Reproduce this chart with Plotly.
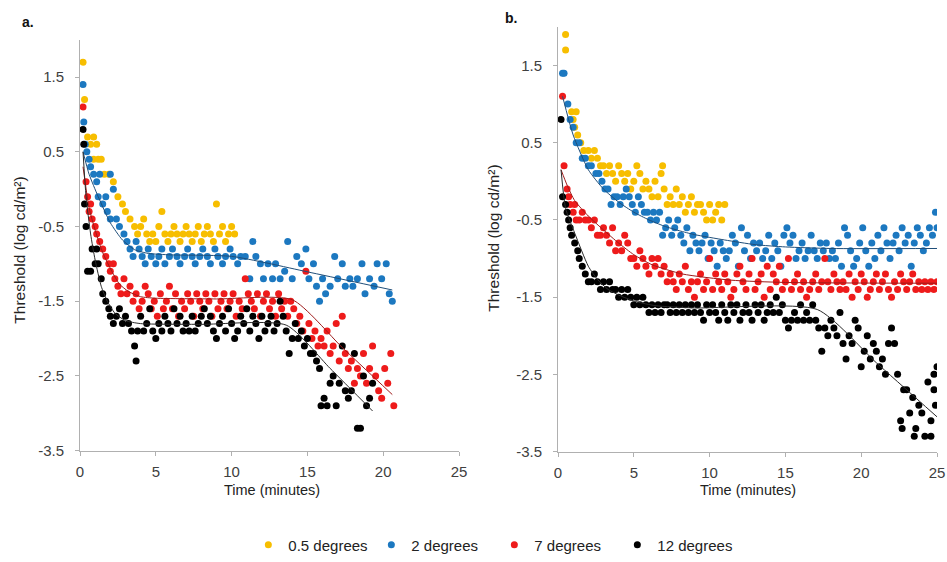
import plotly.graph_objects as go

# ---------------- data (time in minutes, threshold in log cd/m2) ----------------
series_names = ["0.5 degrees", "2 degrees", "7 degrees", "12 degrees"]
series_colors = ["#F7BE00", "#1C78C0", "#EE1B1B", "#000000"]
fit_colors = ["#B08A00", "#1F4E79", "#9E1A1A", "#2A2A2A"]

# Panel a
a_05 = [(0.2,1.7),(0.3,1.2),(0.5,0.7),(0.7,0.6),(0.9,0.7),(1.1,0.6),(0.9,0.4),(1.2,0.4),(1.4,0.4),
        (1.6,0.2),(1.9,0.2),(2.2,0.1),(2.5,-0.1),(2.8,-0.2),(3.0,-0.3),(3.3,-0.4),(3.6,-0.5),(3.8,-0.6),
        (4.0,-0.5),(4.2,-0.4),(4.4,-0.6),(4.6,-0.7),(4.8,-0.6),(5.0,-0.7),(5.2,-0.5),(5.4,-0.3),(5.6,-0.6),
        (5.8,-0.7),(6.0,-0.6),(6.2,-0.5),(6.4,-0.6),(6.6,-0.7),(6.8,-0.6),(7.0,-0.5),(7.2,-0.6),(7.4,-0.7),
        (7.6,-0.6),(7.8,-0.5),(8.0,-0.7),(8.2,-0.6),(8.4,-0.5),(8.6,-0.6),(8.8,-0.7),(9.0,-0.2),(9.2,-0.6),
        (9.4,-0.5),(9.6,-0.7),(9.8,-0.6),(10.0,-0.5),(10.2,-0.6)]
a_2 = [(0.2,1.4),(0.25,0.9),(0.35,0.6),(0.45,0.5),(0.6,0.4),(0.7,0.3),(0.9,0.2),(1.1,0.1),(1.3,0.2),
       (1.2,-0.1),(1.5,-0.2),(1.7,-0.1),(1.8,-0.3),(2.0,-0.4),(2.0,0.2),(2.2,0.0),(2.4,-0.4),(2.6,-0.5),
       (2.9,-0.6),(3.1,-0.7),(3.3,-0.8),(3.5,-0.9),(3.7,-0.7),(3.9,-0.8),(4.1,-0.9),(4.3,-1.0),(4.5,-0.8),
       (4.7,-0.9),(5.0,-1.0),(5.2,-0.9),(5.4,-0.8),(5.6,-1.0),(5.9,-0.9),(6.1,-0.8),(6.4,-0.9),(6.6,-1.0),
       (6.9,-0.9),(7.1,-0.8),(7.4,-0.9),(7.6,-1.0),(7.9,-0.9),(8.1,-0.8),(8.4,-0.9),(8.6,-1.0),(8.9,-0.8),
       (9.1,-0.9),(9.4,-1.0),(9.6,-0.9),(9.9,-0.8),(10.1,-0.9),(10.4,-1.0),(10.6,-0.9),(10.9,-0.9),
       (11.2,-1.2),(11.4,-0.7),(11.6,-0.9),(11.9,-1.0),(12.1,-1.2),(12.4,-1.0),(12.7,-1.2),(12.9,-1.0),
       (13.2,-1.2),(13.5,-1.1),(13.7,-0.7),(14.0,-1.2),(14.3,-0.9),(14.6,-1.0),(14.9,-0.8),(15.1,-1.2),
       (15.4,-1.0),(15.6,-1.3),(15.8,-1.5),(16.0,-1.2),(16.2,-1.4),(16.5,-1.3),(16.8,-0.9),(17.0,-1.2),
       (17.3,-1.0),(17.5,-1.3),(17.8,-1.2),(18.0,-1.3),(18.3,-1.2),(18.6,-1.0),(18.8,-1.4),(19.1,-1.2),
       (19.4,-1.3),(19.6,-1.0),(19.9,-1.2),(20.2,-1.0),(20.4,-1.4),(20.6,-1.5)]
a_7 = [(0.2,1.1),(0.4,0.1),(0.5,-0.1),(0.6,-0.3),(0.7,-0.2),(0.8,-0.4),(1.0,-0.5),(1.1,-0.6),(1.3,-0.7),
       (1.5,-0.8),(1.7,-0.9),(1.9,-1.0),(2.2,-1.0),(2.0,-1.1),(2.3,-1.2),(2.5,-1.3),(2.7,-1.4),(2.9,-1.2),
       (3.1,-1.4),(3.3,-1.3),(3.5,-1.5),(3.7,-1.4),(3.9,-1.6),(4.1,-1.5),(4.3,-1.3),(4.5,-1.4),(4.7,-1.6),
       (4.9,-1.5),(5.1,-1.7),(5.3,-1.4),(5.5,-1.6),(5.7,-1.5),(5.9,-1.3),(6.1,-1.6),(6.3,-1.4),(6.5,-1.7),
       (6.7,-1.5),(6.9,-1.6),(7.1,-1.4),(7.3,-1.5),(7.5,-1.7),(7.7,-1.4),(7.9,-1.5),(8.1,-1.6),(8.3,-1.4),
       (8.5,-1.5),(8.7,-1.7),(8.9,-1.4),(9.1,-1.6),(9.3,-1.5),(9.5,-1.4),(9.7,-1.6),(9.9,-1.5),(10.1,-1.4),
       (10.3,-1.7),(10.5,-1.5),(10.7,-1.6),(10.9,-1.2),(11.1,-1.4),(11.3,-1.5),(11.5,-1.6),(11.7,-1.4),
       (11.9,-1.7),(12.1,-1.5),(12.3,-1.4),(12.5,-1.6),(12.7,-1.5),(12.9,-1.7),(13.1,-1.4),(13.3,-1.6),
       (13.5,-1.5),(13.7,-1.7),(13.9,-1.5),(14.1,-1.6),(14.3,-1.8),(14.5,-1.7),(14.7,-1.9),(14.9,-1.1),
       (15.1,-1.8),(15.3,-2.0),(15.5,-1.9),(15.7,-2.1),(15.9,-2.0),(16.1,-2.1),(16.3,-1.9),(16.5,-2.2),
       (16.7,-2.1),(16.9,-1.8),(17.1,-2.3),(17.3,-1.7),(17.5,-2.2),(17.7,-2.4),(17.9,-2.3),(18.1,-2.6),
       (18.3,-2.4),(18.5,-2.5),(18.7,-2.2),(18.9,-2.6),(19.1,-2.4),(19.3,-2.1),(19.5,-2.5),(19.7,-2.7),
       (19.9,-2.8),(20.1,-2.4),(20.3,-2.6),(20.5,-2.2),(20.7,-2.9)]
a_12 = [(0.2,0.8),(0.25,0.6),(0.3,-0.2),(0.4,-0.5),(0.5,-1.1),(0.7,-1.1),(0.8,-0.8),(1.0,-1.0),(1.1,-0.8),
        (1.2,-1.0),(1.4,-1.2),(1.5,-1.4),(1.7,-1.5),(1.9,-1.6),(2.0,-1.7),(2.2,-1.8),(2.4,-1.7),(2.6,-1.6),
        (2.8,-1.8),(3.0,-1.7),(3.2,-1.8),(3.4,-1.9),(3.6,-2.1),(3.7,-2.3),(3.8,-1.9),(4.0,-1.7),(4.2,-1.9),
        (4.4,-1.8),(4.6,-1.6),(4.8,-1.9),(5.0,-2.0),(5.2,-1.8),(5.4,-1.9),(5.6,-1.7),(5.8,-1.8),(6.0,-1.9),
        (6.2,-1.6),(6.4,-1.8),(6.6,-1.7),(6.8,-1.9),(7.0,-1.8),(7.2,-1.9),(7.4,-1.7),(7.6,-1.9),(7.8,-1.8),
        (8.0,-1.7),(8.2,-1.6),(8.4,-1.8),(8.6,-1.7),(8.8,-1.9),(9.0,-2.0),(9.2,-1.8),(9.4,-1.7),(9.6,-1.9),
        (9.8,-1.6),(10.0,-1.8),(10.2,-2.0),(10.4,-1.9),(10.6,-1.7),(10.8,-1.8),(11.0,-1.6),(11.2,-1.9),
        (11.4,-1.7),(11.6,-1.8),(11.8,-2.0),(12.0,-1.7),(12.2,-1.9),(12.4,-1.8),(12.6,-1.7),(12.8,-1.9),
        (13.0,-1.8),(13.2,-1.5),(13.4,-1.7),(13.6,-1.9),(13.8,-2.2),(14.0,-2.0),(14.2,-1.8),(14.4,-2.0),
        (14.6,-1.9),(14.8,-2.1),(15.0,-2.0),(15.2,-2.2),(15.4,-2.2),(15.6,-2.3),(15.8,-2.4),(15.9,-2.9),
        (16.1,-2.8),(16.3,-2.9),(16.5,-2.6),(16.7,-2.5),(16.9,-2.9),(17.1,-2.6),(17.3,-2.1),(17.5,-2.7),
        (17.7,-2.8),(17.9,-2.7),(18.1,-2.2),(18.3,-3.2),(18.5,-3.2),(18.7,-2.5),(18.9,-2.9),(19.1,-2.8),
        (19.3,-2.6)]

# Panel b
b_05 = [(0.5,1.9),(0.5,1.7),(0.9,0.9),(1.2,0.9),(1.0,0.8),(1.1,0.7),(1.3,0.6),(1.5,0.5),(1.7,0.4),
        (2.0,0.4),(2.2,0.3),(2.4,0.4),(2.6,0.3),(2.8,0.2),(3.0,0.2),(3.2,0.1),(3.4,0.2),(3.6,0.1),(3.8,0.0),
        (4.0,0.2),(4.2,0.1),(4.4,0.0),(4.6,0.1),(4.8,-0.1),(5.0,0.0),(5.2,0.2),(5.4,0.1),(5.6,-0.1),
        (5.8,0.0),(6.0,-0.1),(6.2,-0.2),(6.4,0.0),(6.6,-0.2),(6.8,0.1),(6.9,0.2),(7.0,-0.1),(7.2,-0.3),
        (7.4,-0.2),(7.6,-0.3),(7.8,-0.1),(8.0,-0.3),(8.2,-0.2),(8.4,-0.4),(8.6,-0.3),(8.8,-0.2),(9.0,-0.4),
        (9.2,-0.3),(9.4,-0.3),(9.6,-0.4),(9.8,-0.5),(10.0,-0.3),(10.2,-0.5),(10.4,-0.4),(10.6,-0.3),
        (10.8,-0.5),(11.0,-0.3)]
b_2 = [(0.3,1.4),(0.4,1.4),(0.65,1.0),(0.8,0.8),(1.0,0.7),(1.2,0.5),(1.4,0.5),(1.6,0.3),(1.8,0.3),
       (2.0,0.2),(2.2,0.2),(2.5,0.1),(2.7,0.1),(2.9,0.0),(3.1,-0.1),(3.3,-0.1),(3.5,-0.3),(3.7,-0.2),
       (3.9,-0.2),(4.1,-0.3),(4.3,-0.2),(4.5,-0.1),(4.7,-0.2),(4.9,-0.3),(5.1,-0.4),(5.3,-0.2),(5.5,-0.3),
       (5.7,-0.4),(5.9,-0.4),(6.1,-0.5),(6.3,-0.4),(6.5,-0.5),(6.7,-0.4),(6.9,-0.7),(7.1,-0.6),(7.3,-0.5),
       (7.5,-0.7),(7.7,-0.6),(7.9,-0.5),(8.1,-0.7),(8.3,-0.8),(8.5,-0.6),(8.7,-0.9),(8.9,-0.7),(9.1,-0.8),
       (9.3,-0.9),(9.5,-0.8),(9.7,-0.7),(9.9,-1.0),(10.1,-0.8),(10.3,-0.9),(10.5,-1.1),(10.7,-0.8),
       (10.9,-0.9),(11.1,-1.0),(11.3,-0.9),(11.5,-0.7),(11.7,-0.8),(11.9,-1.1),(12.1,-0.6),(12.3,-0.9),
       (12.5,-0.7),(12.7,-1.0),(12.9,-0.8),(13.1,-0.9),(13.3,-0.8),(13.5,-1.0),(13.7,-0.9),(13.9,-0.7),
       (14.1,-1.0),(14.3,-0.8),(14.5,-0.9),(14.7,-1.1),(14.9,-0.7),(15.1,-0.6),(15.3,-0.8),(15.5,-0.7),
       (15.7,-1.0),(15.9,-0.9),(16.1,-0.8),(16.3,-1.0),(16.5,-0.9),(16.7,-0.7),(16.9,-0.9),(17.1,-1.0),
       (17.3,-0.8),(17.5,-0.9),(17.7,-0.8),(17.9,-1.0),(18.1,-0.9),(18.3,-1.0),(18.5,-0.8),(18.7,-1.1),
       (18.9,-0.6),(19.1,-0.7),(19.3,-0.9),(19.5,-1.1),(19.7,-1.0),(19.9,-0.8),(20.1,-0.6),(20.3,-0.9),
       (20.5,-1.1),(20.7,-0.8),(20.9,-1.0),(21.1,-0.7),(21.3,-0.9),(21.5,-0.6),(21.7,-0.8),(21.9,-1.0),
       (22.1,-0.8),(22.3,-0.7),(22.5,-0.9),(22.7,-0.6),(22.9,-0.8),(23.1,-0.7),(23.3,-1.1),(23.5,-0.8),
       (23.7,-0.6),(23.9,-0.7),(24.1,-0.9),(24.3,-0.8),(24.5,-0.6),(24.7,-0.7),(24.9,-0.4),(25.0,-0.6)]
b_7 = [(0.3,1.1),(0.4,0.2),(0.6,-0.1),(0.7,-0.2),(0.8,-0.3),(1.0,-0.4),(1.1,-0.3),(1.2,-0.5),(1.4,-0.5),
       (1.6,-0.4),(1.8,-0.5),(2.0,-0.5),(2.2,-0.6),(2.4,-0.5),(2.6,-0.7),(2.8,-0.7),(3.0,-0.6),(3.2,-0.7),
       (3.4,-0.8),(3.6,-0.6),(3.8,-0.9),(4.0,-0.8),(4.2,-0.9),(4.4,-0.7),(4.6,-0.8),(4.8,-1.0),(5.0,-1.0),
       (5.2,-1.1),(5.4,-0.9),(5.6,-1.0),(5.8,-1.1),(6.0,-1.2),(6.2,-1.0),(6.4,-1.1),(6.6,-1.0),(6.8,-1.2),
       (7.0,-1.1),(7.2,-1.3),(7.4,-1.2),(7.6,-1.3),(7.8,-1.4),(8.0,-1.2),(8.2,-1.3),(8.4,-1.1),(8.6,-1.4),
       (8.8,-1.3),(9.0,-1.5),(9.2,-1.3),(9.4,-1.2),(9.6,-1.4),(9.8,-1.3),(10.0,-1.0),(10.2,-1.4),
       (10.4,-1.2),(10.6,-1.3),(10.8,-1.4),(11.0,-1.2),(11.2,-1.3),(11.4,-1.5),(11.6,-1.4),(11.8,-1.2),
       (12.0,-1.1),(12.2,-1.3),(12.4,-1.4),(12.6,-1.2),(12.8,-1.0),(13.0,-1.4),(13.2,-1.3),(13.4,-1.2),
       (13.6,-1.5),(13.8,-1.1),(14.0,-1.4),(14.2,-1.2),(14.4,-1.3),(14.6,-1.1),(14.8,-1.4),(15.0,-1.3),
       (15.2,-1.0),(15.4,-1.4),(15.6,-1.3),(15.8,-1.2),(16.0,-1.4),(16.2,-1.3),(16.4,-1.5),(16.6,-1.4),
       (16.8,-1.3),(17.0,-1.2),(17.2,-1.4),(17.4,-1.3),(17.6,-1.0),(17.8,-1.3),(18.0,-1.4),(18.2,-1.2),
       (18.4,-1.3),(18.6,-1.4),(18.8,-1.3),(19.0,-1.4),(19.2,-1.2),(19.4,-1.5),(19.6,-1.3),(19.8,-1.4),
       (20.0,-1.2),(20.2,-1.3),(20.4,-1.5),(20.6,-1.4),(20.8,-1.3),(21.0,-1.2),(21.2,-1.4),(21.4,-1.3),
       (21.6,-1.2),(21.8,-1.4),(22.0,-1.5),(22.2,-1.3),(22.4,-1.4),(22.6,-1.2),(22.8,-1.3),(23.0,-1.4),
       (23.2,-1.3),(23.4,-1.2),(23.6,-1.4),(23.8,-1.3),(24.0,-1.4),(24.2,-1.3),(24.4,-1.4),(24.6,-1.3),
       (24.8,-1.4),(25.0,-1.3)]
b_12 = [(0.2,0.8),(0.3,-0.2),(0.5,-0.3),(0.6,-0.4),(0.7,-0.5),(0.8,-0.6),(0.9,-0.7),(1.1,-0.8),(1.3,-0.9),
        (1.4,-1.0),(1.6,-1.1),(1.8,-1.2),(2.0,-1.3),(2.2,-1.3),(2.4,-1.2),(2.6,-1.3),(2.8,-1.4),(3.0,-1.3),
        (3.2,-1.4),(3.4,-1.3),(3.6,-1.4),(3.8,-1.4),(4.0,-1.5),(4.2,-1.4),(4.4,-1.5),(4.6,-1.4),(4.8,-1.5),
        (5.0,-1.6),(5.2,-1.5),(5.4,-1.6),(5.6,-1.5),(5.8,-1.6),(6.0,-1.7),(6.2,-1.6),(6.4,-1.7),(6.6,-1.6),
        (6.8,-1.7),(7.0,-1.6),(7.2,-1.6),(7.4,-1.7),(7.6,-1.6),(7.8,-1.7),(8.0,-1.6),(8.2,-1.7),(8.4,-1.6),
        (8.6,-1.7),(8.8,-1.6),(9.0,-1.7),(9.2,-1.6),(9.4,-1.7),(9.6,-1.8),(9.8,-1.6),(10.0,-1.7),(10.2,-1.6),
        (10.4,-1.7),(10.6,-1.8),(10.8,-1.6),(11.0,-1.7),(11.2,-1.8),(11.4,-1.6),(11.6,-1.7),(11.8,-1.6),
        (12.0,-1.8),(12.2,-1.7),(12.4,-1.6),(12.6,-1.7),(12.8,-1.8),(13.0,-1.6),(13.2,-1.7),(13.4,-1.6),
        (13.6,-1.8),(13.8,-1.7),(14.0,-1.6),(14.2,-1.7),(14.4,-1.5),(14.6,-1.7),(14.8,-1.6),(15.0,-1.8),
        (15.2,-1.9),(15.4,-1.8),(15.6,-1.7),(15.8,-1.8),(16.0,-1.6),(16.2,-1.8),(16.4,-1.7),(16.6,-1.8),
        (16.8,-1.6),(17.0,-1.8),(17.2,-1.9),(17.4,-2.2),(17.6,-1.9),(17.8,-2.0),(18.0,-1.8),(18.2,-1.9),
        (18.4,-2.0),(18.6,-1.7),(18.8,-2.1),(19.0,-2.3),(19.2,-2.0),(19.4,-2.1),(19.6,-1.8),(19.8,-1.9),
        (20.0,-2.4),(20.2,-2.2),(20.4,-2.0),(20.6,-2.3),(20.8,-2.1),(21.0,-2.2),(21.2,-2.4),(21.4,-2.3),
        (21.6,-2.5),(21.8,-2.1),(22.0,-1.9),(22.2,-2.1),(22.4,-2.5),(22.6,-3.1),(22.7,-3.2),(22.8,-2.7),
        (23.0,-2.7),(23.2,-3.0),(23.4,-2.8),(23.5,-3.3),(23.6,-3.2),(23.8,-2.9),(24.0,-3.0),(24.2,-3.3),
        (24.4,-2.6),(24.6,-3.1),(24.6,-3.3),(24.8,-2.5),(24.8,-2.7),(24.9,-2.9),(25.0,-2.4)]

# fitted curves (knots); None = no fit drawn
a_fits = [None,
          [(0.2,0.5),(0.6,0.2),(1.2,-0.1),(2.0,-0.45),(2.8,-0.68),(3.6,-0.81),(4.5,-0.86),(6.0,-0.88),(10.0,-0.9),(15.3,-1.12),(20.6,-1.35)],
          [(0.2,0.3),(0.6,-0.25),(1.0,-0.55),(1.5,-0.85),(2.1,-1.1),(2.6,-1.27),(3.2,-1.37),(4.0,-1.44),(5.0,-1.46),(9.0,-1.47),(14.0,-1.48),(17.3,-2.12),(20.6,-2.75)],
          [(0.2,0.5),(0.4,-0.1),(0.7,-0.6),(1.0,-0.95),(1.4,-1.3),(1.8,-1.5),(2.3,-1.66),(3.0,-1.76),(4.0,-1.8),(8.0,-1.81),(13.6,-1.82),(16.5,-2.4),(19.3,-2.97)]]
b_fits = [None,
          [(0.3,1.1),(1.0,0.6),(2.0,0.15),(3.0,-0.1),(4.0,-0.27),(5.0,-0.4),(6.0,-0.5),(7.0,-0.58),(8.0,-0.64),(9.0,-0.69),(11.0,-0.76),(13.0,-0.82),(15.0,-0.85),(18.0,-0.87),(25.0,-0.87)],
          [(0.2,0.15),(0.6,-0.05),(1.1,-0.25),(2.0,-0.45),(3.0,-0.63),(4.0,-0.8),(5.0,-0.95),(6.2,-1.08),(8.2,-1.2),(11.4,-1.28),(15.0,-1.31),(25.0,-1.32)],
          [(0.2,0.15),(0.5,-0.35),(1.1,-0.67),(2.0,-1.1),(2.6,-1.27),(3.3,-1.4),(4.2,-1.49),(5.2,-1.56),(6.4,-1.61),(9.0,-1.64),(17.1,-1.66),(21.0,-2.35),(25.0,-3.05)]]

x_ticks = [0, 5, 10, 15, 20, 25]
y_ticks = [-3.5, -2.5, -1.5, -0.5, 0.5, 1.5]
y_tick_text = ["-3.5", "-2.5", "-1.5", "-0.5", "0.5", "1.5"]

# ---------------- figure ----------------
W, H = 947, 562
fig = go.Figure()

panels = [
    dict(data=[a_05, a_2, a_7, a_12], fits=a_fits, xa="x", ya="y"),
    dict(data=[b_05, b_2, b_7, b_12], fits=b_fits, xa="x2", ya="y2"),
]

for pi, p in enumerate(panels):
    for si, pts in enumerate(p["data"]):
        fig.add_trace(go.Scatter(
            x=[t for t, v in pts], y=[v for t, v in pts], mode="markers",
            marker=dict(color=series_colors[si], size=7, line=dict(width=0)),
            name=series_names[si], legendgroup=series_names[si],
            showlegend=(pi == 0), xaxis=p["xa"], yaxis=p["ya"]))
    for si, knots in enumerate(p["fits"]):
        if knots is None:
            continue
        fig.add_trace(go.Scatter(
            x=[t for t, v in knots], y=[v for t, v in knots], mode="lines",
            line=dict(color=fit_colors[si], width=1, shape="spline", smoothing=0.6),
            showlegend=False, hoverinfo="skip", xaxis=p["xa"], yaxis=p["ya"]))

FONT = "Liberation Sans, Arial, sans-serif"
axis_font = dict(family=FONT, size=15, color="#404040")
common_x = dict(range=[0, 25], tickvals=x_ticks, showgrid=False, zeroline=False,
                showline=True, linecolor="#B0B0B0", linewidth=1, ticks="outside",
                ticklen=4, tickcolor="#B0B0B0", tickfont=axis_font, automargin=False,
                ticklabelstandoff=3)
common_y = dict(range=[-3.5, 2.0], tickvals=y_ticks, ticktext=y_tick_text, showgrid=False,
                zeroline=False, showline=True, linecolor="#B0B0B0", linewidth=1,
                ticks="outside", ticklen=4, tickcolor="#B0B0B0", tickfont=axis_font,
                automargin=False, ticklabelstandoff=8)

fig.update_layout(
    width=W, height=H, margin=dict(l=0, r=0, t=0, b=0),
    paper_bgcolor="white", plot_bgcolor="white",
    xaxis=dict(domain=[80/W, 459/W], anchor="y", **common_x),
    yaxis=dict(domain=[1-453/H, 1-40/H], anchor="x", **common_y),
    xaxis2=dict(domain=[558/W, 937/W], anchor="y2", **common_x),
    yaxis2=dict(domain=[1-454/H, 1-27/H], anchor="x2", **common_y),
    legend=dict(orientation="h", x=0.522, xanchor="center", y=1-548/H, yanchor="middle",
                font=dict(family=FONT, size=15, color="#222222"),
                itemwidth=30, entrywidth=78, entrywidthmode="pixels",
                tracegroupgap=0, bgcolor="rgba(0,0,0,0)"),
    showlegend=True,
)

label_font = dict(family=FONT, size=14.5, color="#222222")
annos = [
    dict(text="<b>a.</b>", x=20/W, y=1-22/H, xanchor="left", yanchor="middle", font=dict(family=FONT, size=14, color="#111111")),
    dict(text="<b>b.</b>", x=503/W, y=1-18/H, xanchor="left", yanchor="middle", font=dict(family=FONT, size=14, color="#111111")),
    dict(text="Threshold (log cd/m²)", x=20/W, y=1-252/H, textangle=-90, xanchor="center", yanchor="middle", font=dict(family=FONT, size=15.5, color="#222222")),
    dict(text="Threshold (log cd/m²)", x=494/W, y=1-240/H, textangle=-90, xanchor="center", yanchor="middle", font=dict(family=FONT, size=15.5, color="#222222")),
    dict(text="Time (minutes)", x=272/W, y=1-493/H, xanchor="center", yanchor="middle", font=label_font),
    dict(text="Time (minutes)", x=748/W, y=1-493/H, xanchor="center", yanchor="middle", font=label_font),
]
for a in annos:
    fig.add_annotation(xref="paper", yref="paper", showarrow=False, **a)

fig.write_html("out.html", config={"displayModeBar": False},
               post_script="document.body.style.margin='0px';document.body.style.overflow='hidden';")
